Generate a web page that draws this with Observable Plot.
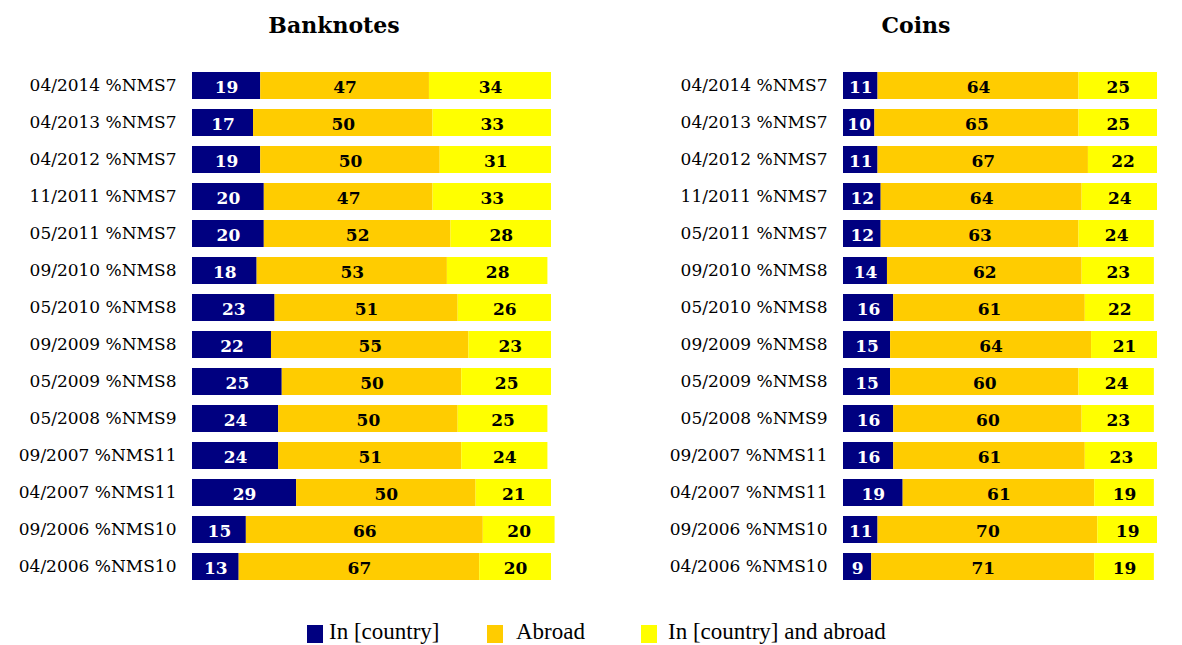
<!DOCTYPE html>
<html>
<head>
<meta charset="utf-8">
<script src="https://cdn.jsdelivr.net/npm/d3@7"></script>
<script src="https://cdn.jsdelivr.net/npm/@observablehq/plot@0.6"></script>
<style>
  html, body { margin: 0; padding: 0; background: #fff; }
  #wrap { position: relative; width: 1182px; height: 645px; overflow: hidden; }
  .title { position: absolute; top: 12px; font: bold 22px "DejaVu Serif", serif; color: #000; transform: translateX(-50%); white-space: nowrap; }
  .panel { position: absolute; top: 0; }
  .sw { position: absolute; top: 625px; width: 16px; height: 18px; }
  .lt { position: absolute; top: 619px; font: 23px "Liberation Serif", "Times New Roman", serif; color: #000; white-space: nowrap; }
</style>
</head>
<body>
<div id="wrap"></div>
<script>
const labels = [
  "04/2014 %NMS7", "04/2013 %NMS7", "04/2012 %NMS7", "11/2011 %NMS7", "05/2011 %NMS7",
  "09/2010 %NMS8", "05/2010 %NMS8", "09/2009 %NMS8", "05/2009 %NMS8", "05/2008 %NMS9",
  "09/2007 %NMS11", "04/2007 %NMS11", "09/2006 %NMS10", "04/2006 %NMS10"
];
const cats = ["In [country]", "Abroad", "In [country] and abroad"];

const banknotesIn     = [19, 17, 19, 20, 20, 18, 23, 22, 25, 24, 24, 29, 15, 13];
const banknotesAbroad = [47, 50, 50, 47, 52, 53, 51, 55, 50, 50, 51, 50, 66, 67];
const banknotesBoth   = [34, 33, 31, 33, 28, 28, 26, 23, 25, 25, 24, 21, 20, 20];

const coinsIn     = [11, 10, 11, 12, 12, 14, 16, 15, 15, 16, 16, 19, 11, 9];
const coinsAbroad = [64, 65, 67, 64, 63, 62, 61, 64, 60, 60, 61, 61, 70, 71];
const coinsBoth   = [25, 25, 22, 24, 24, 23, 22, 21, 24, 23, 23, 19, 19, 19];

const colors = ["#000080", "#FFCC00", "#FFFF00"];

function toLong(series) {
  const rows = [];
  labels.forEach((lab, i) => {
    series.forEach((s, k) => rows.push({label: lab, cat: cats[k], value: s[i]}));
  });
  return rows;
}

const wrap = document.getElementById("wrap");

function panel(series, left, width, marginLeft, marginRight, title, titleX) {
  const data = toLong(series);
  const stackOpts = {x: "value", y: "label", z: "cat", order: cats};
  const chart = Plot.plot({
    width, height: 600,
    marginLeft, marginRight, marginTop: 67, marginBottom: 15,
    x: {domain: [0, 100], axis: null},
    y: {domain: labels, paddingInner: 0.27, paddingOuter: 0.135, label: null},
    color: {type: "identity"},
    style: {fontFamily: "DejaVu Serif, serif", background: "transparent"},
    marks: [
      Plot.barX(data, Plot.stackX({...stackOpts, fill: d => colors[cats.indexOf(d.cat)]})),
      Plot.text(data, Plot.stackX({
        ...stackOpts,
        text: d => String(d.value),
        fill: d => d.cat === cats[0] ? "white" : "black",
        fontWeight: "bold", fontSize: 17, dy: 2
      })),
      Plot.axisY({tickSize: 0, tickPadding: 16, fontSize: 17, label: null, fill: "#000"})
    ]
  });
  chart.classList.add("panel");
  chart.style.left = left + "px";
  wrap.appendChild(chart);
  const t = document.createElement("div");
  t.className = "title";
  t.style.left = titleX + "px";
  t.textContent = title;
  wrap.appendChild(t);
}

panel([banknotesIn, banknotesAbroad, banknotesBoth], 0, 591, 192, 40, "Banknotes", 334);
panel([coinsIn, coinsAbroad, coinsBoth], 591, 591, 252, 25, "Coins", 916);

// legend
const swX = [307, 487, 641];
const txX = [329, 516, 668];
cats.forEach((c, i) => {
  const s = document.createElement("div");
  s.className = "sw";
  s.style.left = swX[i] + "px";
  s.style.background = colors[i];
  wrap.appendChild(s);
  const t = document.createElement("div");
  t.className = "lt";
  t.style.left = txX[i] + "px";
  t.textContent = c;
  wrap.appendChild(t);
});
</script>
</body>
</html>
